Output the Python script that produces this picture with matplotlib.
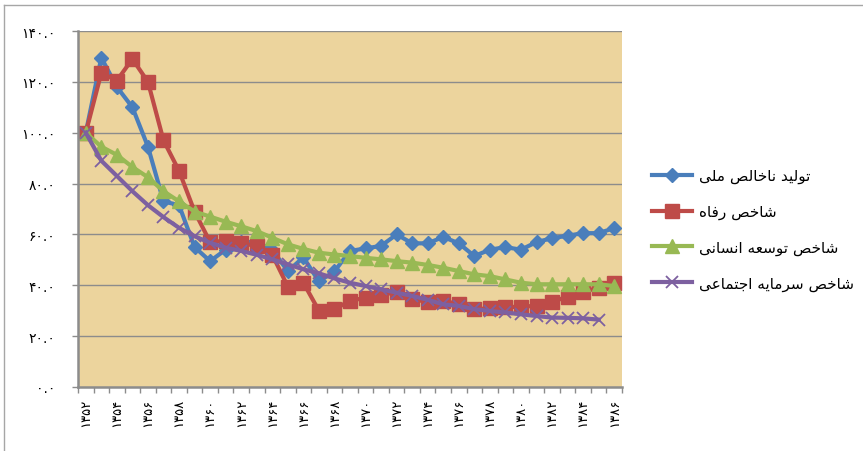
import numpy as np
import matplotlib
matplotlib.use("Agg")
import matplotlib.pyplot as plt
from matplotlib.lines import Line2D

plt.rcParams['font.family'] = ['DejaVu Sans']

# ---------------- data ----------------
years = [1352, 1353, 1354, 1355, 1356, 1357, 1358, 1359, 1360, 1361, 1362, 1363,
         1364, 1365, 1366, 1367, 1368, 1369, 1370, 1371, 1372, 1373, 1374, 1375,
         1376, 1377, 1378, 1379, 1380, 1381, 1382, 1383, 1384, 1385, 1386]

gdp = [100, 129.5, 118, 110, 94.5, 73, 71.5, 55, 49.5, 54, 57, 57, 54, 45.5, 51,
       41.5, 45.5, 53.5, 54.5, 55.5, 60, 56.5, 56.5, 59, 56.5, 51.5, 54, 55, 54,
       57, 58.5, 59.5, 60.5, 60.5, 62.5]

welfare = [100, 123.5, 120.5, 129, 120, 97, 85, 69, 57, 57.5, 56.5, 55.5, 52,
           39.5, 41, 30, 30.5, 34, 35, 36, 37.5, 34.5, 33.5, 34, 32.5, 30.5, 31,
           31.5, 31.5, 32, 33.5, 35.5, 37.5, 39, 41]

hdi = [100, 94.5, 91.3, 86.5, 82.5, 77, 73, 69, 67, 65, 63.2, 61.3, 58.7, 56.1,
       54.3, 52.8, 52.1, 51.5, 50.8, 50.2, 49.5, 48.9, 48, 46.9, 45.6, 44.3, 43.6,
       42.3, 41, 40.4, 40.4, 40.4, 40.4, 40.4, 39.7]

social = [100, 89, 83, 77, 71.5, 66.8, 62.6, 59.3, 56.7, 54.8, 53.5, 52, 50.2,
          48.2, 46.3, 44.7, 42.7, 41, 39.7, 38.4, 37.1, 35.8, 34.3, 32.5, 31.9,
          30.6, 29.9, 29.3, 28.6, 27.9, 27.3, 27.2, 27.0, 26.5, None]

labels = ["تولید ناخالص ملی", "شاخص رفاه", "شاخص توسعه انسانی", "شاخص سرمایه اجتماعی"]
yticks = [0, 20, 40, 60, 80, 100, 120, 140]

# ---------------- helpers ----------------
FA_DIGITS = str.maketrans("0123456789", "۰۱۲۳۴۵۶۷۸۹")

def fa_num(s):
    return str(s).translate(FA_DIGITS)

# presentation forms: isolated, final, initial, medial
FORMS = {
    'ا': ('\uFE8D', '\uFE8E', None, None),
    'ت': ('\uFE95', '\uFE96', '\uFE97', '\uFE98'),
    'ن': ('\uFEE5', '\uFEE6', '\uFEE7', '\uFEE8'),
    'ج': ('\uFE9D', '\uFE9E', '\uFE9F', '\uFEA0'),
    'خ': ('\uFEA5', '\uFEA6', '\uFEA7', '\uFEA8'),
    'د': ('\uFEA9', '\uFEAA', None, None),
    'ر': ('\uFEAD', '\uFEAE', None, None),
    'س': ('\uFEB1', '\uFEB2', '\uFEB3', '\uFEB4'),
    'ش': ('\uFEB5', '\uFEB6', '\uFEB7', '\uFEB8'),
    'ص': ('\uFEB9', '\uFEBA', '\uFEBB', '\uFEBC'),
    'ع': ('\uFEC9', '\uFECA', '\uFECB', '\uFECC'),
    'ف': ('\uFED1', '\uFED2', '\uFED3', '\uFED4'),
    'ل': ('\uFEDD', '\uFEDE', '\uFEDF', '\uFEE0'),
    'م': ('\uFEE1', '\uFEE2', '\uFEE3', '\uFEE4'),
    'ه': ('\uFEE9', '\uFEEA', '\uFEEB', '\uFEEC'),
    'و': ('\uFEED', '\uFEEE', None, None),
    'ی': ('\uFEEF', '\uFEF0', '\uFEF3', '\uFEF4'),
}

def shape(s):
    out = []
    for i, c in enumerate(s):
        if c not in FORMS:
            out.append(c)
            continue
        prev = s[i - 1] if i > 0 else None
        nxt = s[i + 1] if i + 1 < len(s) else None
        jp = prev in FORMS and FORMS[prev][2] is not None
        jn = FORMS[c][2] is not None and nxt in FORMS
        f = FORMS[c]
        if jp and jn:
            out.append(f[3])
        elif jp:
            out.append(f[1])
        elif jn:
            out.append(f[2])
        else:
            out.append(f[0])
    return ''.join(reversed(out))

# ---------------- figure ----------------
W, H = 863, 452
fig = plt.figure(figsize=(W / 100, H / 100), dpi=100)
fig.patch.set_facecolor('white')
ax = fig.add_axes([78 / W, 64 / H, 544 / W, 356 / H])
ax.set_facecolor('#ECD49D')

x = np.arange(len(years))
grid_c = '#8C8C8C'

for yv in yticks[1:]:
    ax.axhline(yv, color=grid_c, lw=1.0, zorder=1)

colors = ['#4A7EBB', '#BE4B48', '#98B954', '#7D60A0']
lw = 3.0
ax.plot(x, gdp, color=colors[0], lw=lw, marker='D', ms=7, mec=colors[0],
        mfc=colors[0], zorder=3, label=shape(labels[0]))
ax.plot(x, welfare, color=colors[1], lw=lw, marker='s', ms=10, mec=colors[1],
        mfc=colors[1], zorder=4, label=shape(labels[1]))
ax.plot(x, hdi, color=colors[2], lw=lw, marker='^', ms=10, mec=colors[2],
        mfc=colors[2], zorder=5, label=shape(labels[2]))
soc = np.array([np.nan if v is None else v for v in social], dtype=float)
ax.plot(x, soc, color=colors[3], lw=lw, marker='x', ms=8, mew=1.3,
        mec=colors[3], zorder=6, label=shape(labels[3]))

ax.set_xlim(-0.5, len(years) - 0.5)
ax.set_ylim(0, 140)

for side in ['top', 'right']:
    ax.spines[side].set_visible(False)
for side in ['left', 'bottom']:
    ax.spines[side].set_color(grid_c)
    ax.spines[side].set_linewidth(1.8)
    ax.spines[side].set_zorder(7)

ax.set_yticks(yticks)
ax.set_yticklabels([fa_num(f"{v:.1f}") for v in yticks], fontsize=10)
ax.tick_params(axis='y', length=4.5, width=1.0, color=grid_c, pad=12)

ax.set_xticks(x[::2])
ax.set_xticklabels([fa_num(y) for y in years[::2]], rotation=90, fontsize=9.5,
                   va='top')
ax.set_xticks(np.arange(-0.5, len(years), 1.0), minor=True)
ax.tick_params(axis='x', which='major', length=0, pad=8)
ax.tick_params(axis='x', which='minor', length=4.5, width=1.0, color=grid_c)

leg = fig.legend(loc='center left', bbox_to_anchor=(652 / W, 1 - 230.5 / H),
                 frameon=False, fontsize=11, handlelength=2.6,
                 handletextpad=0.5, labelspacing=1.35, borderpad=0,
                 borderaxespad=0)

# outer chart border
fig.add_artist(Line2D([4 / W, 4 / W], [0, 1 - 6 / H], transform=fig.transFigure,
                      color='#A6A6A6', lw=1.0))
fig.add_artist(Line2D([4 / W, 1], [1 - 6 / H, 1 - 6 / H], transform=fig.transFigure,
                      color='#A6A6A6', lw=1.0))

fig.savefig('out.png', dpi=100)
